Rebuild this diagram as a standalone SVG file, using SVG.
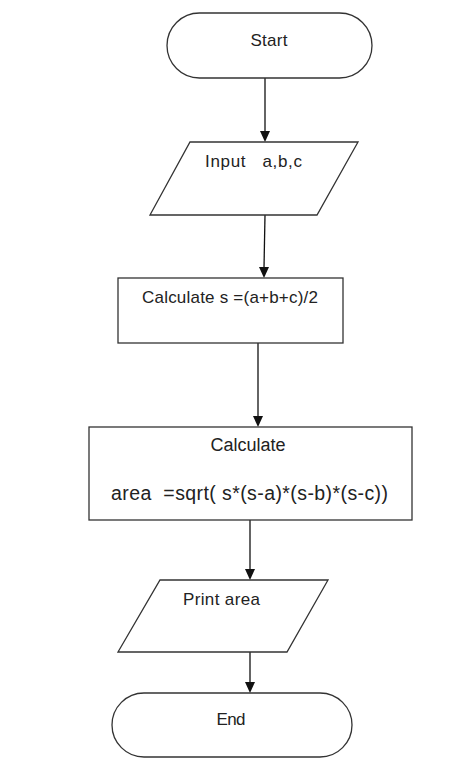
<svg xmlns="http://www.w3.org/2000/svg" width="474" height="776" viewBox="0 0 474 776">
<style>
.shape{fill:#fff;stroke:#333;stroke-width:1.3}
.lbl{font-family:"Liberation Sans",Arial,sans-serif;font-size:17px;fill:#222}
.big{font-size:19.5px}
.mid{font-size:18px}
.conn{stroke:#111;stroke-width:1.3;fill:none}
.head{fill:#111}
</style>
<rect width="474" height="776" fill="#fff"/>
<g id="connectors">
<line class="conn" x1="265" y1="78" x2="265" y2="132"/>
<line class="conn" x1="265" y1="215" x2="264" y2="268"/>
<line class="conn" x1="258" y1="343" x2="258" y2="417"/>
<line class="conn" x1="250" y1="520" x2="250" y2="570"/>
<line class="conn" x1="250" y1="652" x2="250" y2="683"/>
<path class="head" d="M260,131 L270,131 L265,142 Z"/>
<path class="head" d="M259,267 L269,267 L264,278 Z"/>
<path class="head" d="M253,416 L263,416 L258,427 Z"/>
<path class="head" d="M245,569 L255,569 L250,580 Z"/>
<path class="head" d="M245,682 L255,682 L250,693 Z"/>
</g>
<g id="start">
<rect class="shape" x="167" y="13" width="205" height="65" rx="32.5" ry="32.5"/>
<text class="lbl" x="269" y="46" text-anchor="middle" textLength="37">Start</text>
</g>
<g id="input">
<polygon class="shape" points="190,142 358,142 317,215 150,215"/>
<text class="lbl" x="205" y="167" xml:space="preserve" textLength="97">Input   a,b,c</text>
</g>
<g id="calc-s">
<rect class="shape" x="118" y="278" width="225" height="65"/>
<text class="lbl" x="142" y="303" textLength="176">Calculate s =(a+b+c)/2</text>
</g>
<g id="calc-area">
<rect class="shape" x="89" y="427" width="323" height="93"/>
<text class="lbl mid" x="248" y="451" text-anchor="middle">Calculate</text>
<text class="lbl big" x="111" y="500" xml:space="preserve" textLength="277">area  =sqrt( s*(s-a)*(s-b)*(s-c))</text>
</g>
<g id="print">
<polygon class="shape" points="160,580 328,580 287,652 118,652"/>
<text class="lbl" x="183" y="605" textLength="77">Print area</text>
</g>
<g id="end">
<rect class="shape" x="112" y="693" width="240" height="64" rx="32" ry="32"/>
<text class="lbl" x="231" y="725" text-anchor="middle" textLength="29">End</text>
</g>
</svg>
